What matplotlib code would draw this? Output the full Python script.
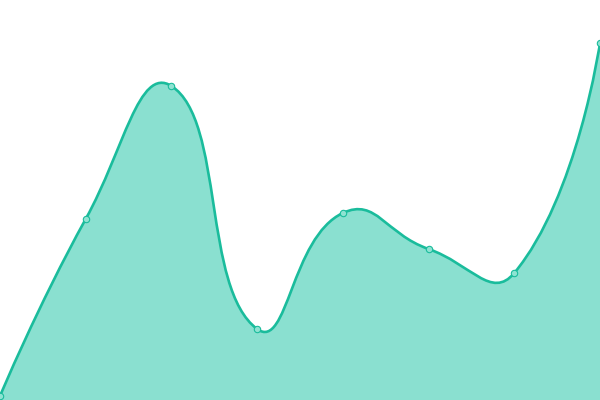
import numpy as np
import matplotlib.pyplot as plt
from matplotlib.path import Path
from matplotlib.patches import PathPatch

categories = ['1', '2', '3', '4', '5', '6', '7', '8']
values = [4, 181, 314, 71, 187, 151, 127, 357]

LINE = '#1abc9c'
FILL = '#8ae0d0'


def smooth_path(xs, ys, smooth=0.5):
    # bezier control points, same idea as echarts smooth lines
    n = len(xs)
    verts = [(xs[0], ys[0])]
    codes = [Path.MOVETO]
    cps = []
    for i in range(n):
        if i == 0 or i == n - 1:
            cps.append(((xs[i], ys[i]), (xs[i], ys[i])))
            continue
        vx = xs[i + 1] - xs[i - 1]
        vy = ys[i + 1] - ys[i - 1]
        d0 = np.hypot(xs[i] - xs[i - 1], ys[i] - ys[i - 1])
        d1 = np.hypot(xs[i + 1] - xs[i], ys[i + 1] - ys[i])
        r = d1 / (d0 + d1)
        before = (xs[i] - vx * smooth * (1 - r), ys[i] - vy * smooth * (1 - r))
        after = (xs[i] + vx * smooth * r, ys[i] + vy * smooth * r)
        cps.append((before, after))
    for i in range(1, n):
        verts += [cps[i - 1][1], cps[i][0], (xs[i], ys[i])]
        codes += [Path.CURVE4] * 3
    return verts, codes


fig = plt.figure(figsize=(6, 4), dpi=100)
ax = fig.add_axes([0, 0, 1, 1])
ax.set_xlim(0, len(categories) - 1)
ax.set_ylim(0, 400)
ax.axis('off')

# pixel-like units so the smoothing looks right
sx = 600 / (len(categories) - 1)
xs = [i * sx for i in range(len(categories))]
verts, codes = smooth_path(xs, values)
verts = [(x / sx, y) for x, y in verts]

area_verts = verts + [(len(categories) - 1, 0), (0, 0), verts[0]]
area_codes = codes + [Path.LINETO, Path.LINETO, Path.CLOSEPOLY]
ax.add_patch(PathPatch(Path(area_verts, area_codes), facecolor=FILL, edgecolor='none'))
ax.add_patch(PathPatch(Path(verts, codes), facecolor='none', edgecolor=LINE, lw=1.9))

ax.plot(range(len(categories)), values, 'o', ms=4.6, mfc='#8fe3d2', mec=LINE, mew=0.8, clip_on=False)

fig.savefig('out.png', dpi=100)
